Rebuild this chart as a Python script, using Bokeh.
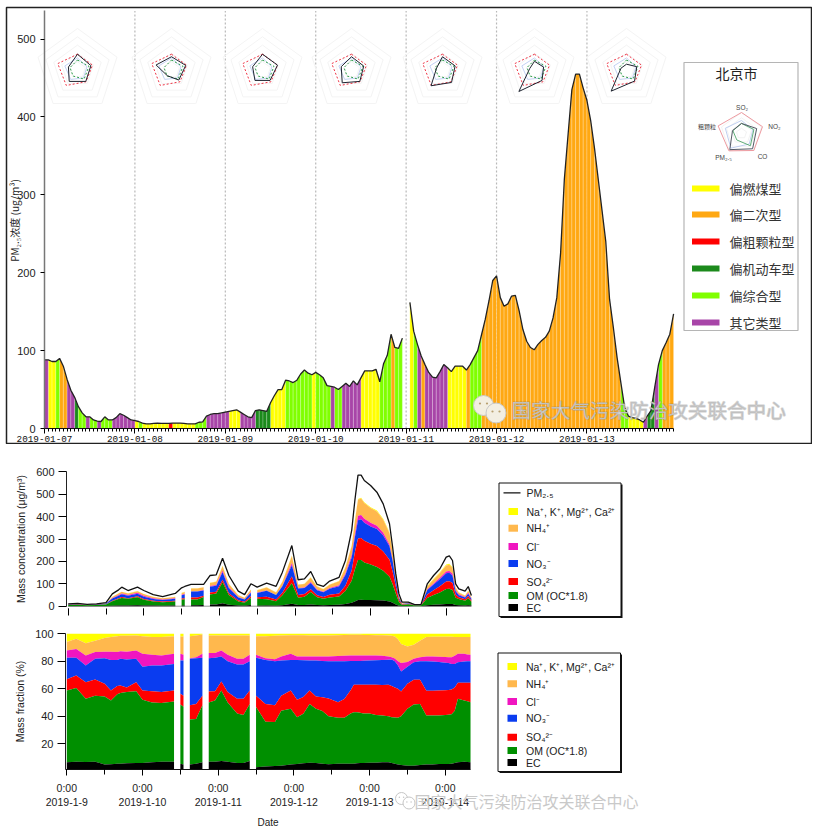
import math
import numpy as np
from bokeh.core.properties import value
from bokeh.embed import file_html
from bokeh.layouts import column
from bokeh.models import FixedTicker, LinearAxis, Range1d
from bokeh.plotting import figure
from bokeh.resources import INLINE

# ---------- top panel data ----------
nan = float("nan")
PM_HOURLY = [
    88, 88, 86, 86, 90, 80, 63, 49, 40, 28,
    20, 15, 15, 11, 9.5, 9, 15, 11, 11, 14,
    19, 17, 14, 11, 10, 9, 7, 6, 6, 6.5,
    7, 6.5, 6.5, 6.5, 7, 7, 7, 6.5, 6, 6,
    6, 8, 8.5, 16, 18, 19, 19, 20, 21, 22,
    23, 24, 21, 18, 15, 14, 23, 24, 23, 22,
    33, 42, 50, 50, 62, 61, 59, 62, 70, 75,
    71, 69, 72, 69, 65, 55, 54, 53, 50, 54,
    58, 54, 61, 56, 65, 74, 74, 74, 76, 60,
    83, 94, 121, 104, 103, 116, nan, 162, 125, 108,
    93, 82, 72, 66, 65, 73, 82, 78, 73, 80,
    80, 80, 75, 82, 91, 100, 120, 140, 164, 190,
    196, 168, 157, 160, 170, 171, 151, 127, 112, 104,
    101, 108, 113, 117, 125, 142, 168, 225, 320, 378,
    435, 455, 455, 437, 421, 395, 360, 320, 280, 240,
    166, 130, 91, 59, 27, 16, 14, 13, 11, 8,
    16, 23, 53, 82, 100, 110, 121, 147,
]
HOUR_TYPES = list(
    "PYYGOOPPDG" "GPGGPGGGPP" "PPPPYGYYYY" "YYYRYYYYYY" "GGGPPPPPPY"
    "YYPPPPDDDD" "YYYYGGGGGG" "GYGGGGPGGP" "PPPPYYYYYG" "GGOGGG-YGP"
    "OPPPPPPYYY" "YYOGGGOOOO" "OOOOOOOOOO" "OOOOOOOOOO" "OOOOOOOOOO"
    "OOOGGYYYYP" "DDPGOOOO"
)
TYPE_COLORS = {"Y": "#FFFF00", "O": "#FFA812", "R": "#FF0000",
               "D": "#1C8A1C", "G": "#80FF00", "P": "#A845A8"}
TYPE_NAMES = ["偏燃煤型", "偏二次型", "偏粗颗粒型", "偏机动车型", "偏综合型", "其它类型"]
TYPE_KEYS = ["Y", "O", "R", "D", "G", "P"]
DAY_LABELS = ["2019-01-07", "2019-01-08", "2019-01-09", "2019-01-10",
              "2019-01-11", "2019-01-12", "2019-01-13"]

RADAR_REF = [.38, .38, .35, .46, .50]
RADAR_GREEN = [.24, .29, .27, .18, .19]
RADAR_BLUE = [.29, .24, .24, .28, .32]
RADAR_DAILY = [
    [.38, .34, .34, .34, .23],
    [.32, .36, .30, .17, .39],
    [.38, .38, .31, .31, .25],
    [.32, .31, .34, .38, .26],
    [.32, .32, .37, .47, .15],
    [.21, .23, .31, .64, .12],
    [.14, .26, .33, .63, .14],
]
KEY_REF = [1.0, 1.05, 1.0, 1.02, 1.17]
KEY_BLACK = [.48, .76, .90, .95, .45]
KEY_GREEN = [.48, .62, .72, .38, .43]
KEY_BLUE = [.62, .57, .62, .86, .81]

# ---------- lower panels data ----------
HOURS = [0, 3, 6, 9, 12, 14, 16, 17, 19, 22, 24, 27, 30, 34, 36, 37, 39, 41, 43,
         45, 47, 49, 51, 54, 56, 58, 60, 63, 66, 68, 71, 73, 75, 77, 79, 81, 83,
         86, 88, 90, 91, 92, 93, 94, 96, 98, 100, 102, 103, 104, 105, 106, 108,
         110, 112, 114, 116, 118, 120, 121, 122, 123, 124, 126, 127, 128]
SEGMENT_ENDS = [34, 37, 43, 58, 128]
PM25 = [10, 13, 8, 10, 16, 55, 73, 85, 70, 85, 70, 52, 43, 57, 82, 88, 97, 97, 97,
        137, 140, 214, 137, 67, 52, 100, 85, 103, 89, 152, 271, 118, 122, 155, 97, 88, 112,
        129, 204, 338, 472, 585, 585, 561, 539, 509, 457, 368, 263, 144, 55, 18, 18,
        7, 7, 100, 137, 167, 219, 225, 204, 100, 77, 67, 88, 48]
SPECIES_TOTAL = [10, 11, 8, 10, 14, 42, 58, 65, 58, 68, 55, 42, 36, 42, 60, 65, 80, 80, 85,
                 105, 110, 181, 100, 50, 38, 75, 72, 85, 62, 110, 226, 97, 100, 129, 89, 77, 97,
                 112, 174, 271, 382, 479, 484, 464, 442, 427, 390, 330, 248, 144, 48, 13, 18,
                 7, 7, 90, 122, 152, 186, 189, 174, 85, 62, 48, 70, 40]
TOP_EC = [6.5, 7, 6.8, 7, 5, 5.2, 5.5, 5.5, 5.8, 6, 6, 6.5, 7, 7, 5.5, 5, 5, 5.5, 6.5,
          7, 7, 7.5, 7, 6, 6, 7.5, 3, 3.5, 3.8, 4, 5, 5.3, 5.8, 6.2, 6, 5.5, 5.2,
          5.5, 5.5, 5.5, 5.5, 5.8, 6, 6, 6.2, 6.3, 6.5, 6.5, 6, 5.5, 5, 4.5, 4,
          4, 4.5, 5, 5, 5.3, 5.3, 5.3, 5.5, 6, 6.5, 7, 6.8, 6.5]
TOP_OM = [58.8, 60.5, 52.7, 55, 54.4, 51.5, 56, 57, 57.6, 58.3, 52, 50, 49.6, 50.8, 48.6, 47, 37.7, 38, 48,
          50, 51.5, 58.8, 50, 42, 41, 49, 46.7, 36, 35.8, 44, 45.5, 39.4, 41.8, 49, 45.5, 43.8, 40,
          39, 39, 42, 43, 43, 42.5, 42, 42, 41, 40.5, 40, 39.4, 39.2, 39, 40, 45.5,
          48.5, 49, 40.6, 40.6, 40.6, 41, 41.2, 41.5, 44, 52.7, 51.5, 51, 50.3]
TOP_SO4 = [67, 69.7, 64.8, 66.8, 63.6, 58.8, 62, 62.4, 61, 64.8, 58.8, 58.3, 57.6, 58.8, 56.4, 55, 48, 49, 55,
           58, 58.3, 65.3, 57.6, 52.7, 52.7, 58.8, 55, 49, 48, 55, 58.8, 52, 54, 58.8, 54.4, 53.8, 53,
           50.3, 52.5, 59, 63, 63, 63, 63, 63, 63, 62.7, 63, 62, 61, 60, 58, 63.6,
           66.5, 66.5, 58.5, 58.5, 58.8, 59, 59.2, 59.5, 61, 64.4, 64.4, 64.4, 64.4]
TOP_NO3 = [82.5, 82.5, 77, 81.8, 82.3, 81, 81, 81.8, 81.3, 81.8, 76, 77, 77, 78, 80.6, 80.6, 81.8, 82.3, 82.5,
           82.3, 82.5, 83.5, 80, 77.7, 77.7, 80, 82.5, 81, 80, 80.5, 81, 81, 80.8, 80.6, 80.5, 80.2, 80,
           80, 80, 80.2, 80.2, 80.2, 80.3, 80.4, 80.5, 80.8, 81, 81.2, 81.4, 80, 77, 72.5, 76,
           79.4, 80, 80, 79.8, 79.5, 79, 78.8, 78, 78, 79.4, 79.8, 80, 80]
TOP_CL = [87.9, 89, 84.2, 86.7, 87, 87, 86.7, 87.4, 87, 87.9, 85.5, 84.7, 84.2, 85.5, 85.5, 84.7, 82.3, 83, 85.5,
          86, 86, 87.9, 84.7, 81.8, 81.8, 84.7, 84.7, 82.3, 81.5, 83.5, 85.5, 83.5, 83.5, 83.5, 83.5, 83.5, 83.5,
          83.8, 84, 84.2, 84.2, 84.2, 84.2, 84.2, 84.2, 84.2, 84, 83.5, 83, 82, 80, 78.7, 79.5,
          81.8, 83, 83.5, 83.5, 83.3, 83.2, 83, 83, 84, 85.5, 85.5, 85, 84.7]
TOP_NH4 = [94, 96.4, 93.2, 95, 97, 97.6, 98.3, 98.5, 98.6, 98.8, 98.3, 97.6, 97.6, 98.3, 98, 98, 98.3, 98.8, 99.5,
           98.8, 98.8, 98.8, 98.8, 98.8, 98.8, 98.8, 98.3, 98.3, 98.5, 98.8, 99, 99, 99, 98.8, 98.8, 98.8, 98.8,
           99, 99.2, 99.3, 99.3, 99.3, 99.3, 99.2, 99.2, 99, 99, 98.8, 98.5, 98, 96, 92.5, 90.8,
           92, 95, 97.6, 97.8, 97.8, 97.8, 97.8, 97.8, 97.6, 97.6, 97.6, 97.6, 97.6]
TOP_ALL = [100] * len(HOURS)
SPECIES_NAMES = ["Na⁺, K⁺, Mg²⁺, Ca²⁺", "NH₄⁺", "Cl⁻", "NO₃⁻", "SO₄²⁻", "OM (OC*1.8)", "EC"]
SPECIES_COLORS = ["#FFFF00", "#FFB84D", "#F015C0", "#0A3CF0", "#FF0000", "#008F00", "#000000"]
DATE_LABELS = ["2019-1-9", "2019-1-10", "2019-1-11", "2019-1-12", "2019-1-13", "2019-1-14"]

CN = "Noto Sans CJK SC"
AR = "Liberation Sans"


def txt(p, x, y, s, size, color="#222222", align="left", base="middle", font=AR, **kw):
    return p.text(x=[x], y=[y], text=[s], text_font=value(font), text_font_size=f"{size}px",
                  text_color=color, text_align=align, text_baseline=base,
                  x_range_name="px", y_range_name="px", **kw)


def radar(cx, cy, r, vals):
    xs, ys = [], []
    for k, v in enumerate(list(vals) + [vals[0]]):
        a = math.radians(90 - 72 * k)
        xs.append(cx + r * v * math.cos(a))
        ys.append(cy - r * v * math.sin(a))
    return xs, ys


def pxline(p, xs, ys, **kw):
    return p.line(xs, ys, x_range_name="px", y_range_name="px", **kw)


def base_fig(w, h, xr, yr, px_x, px_y, left=0, top=0):
    p = figure(width=w, height=h, x_range=Range1d(*xr), y_range=Range1d(*yr),
               x_axis_type=None, y_axis_type=None, toolbar_location=None,
               output_backend="svg", min_border=0, min_border_left=left, min_border_right=0,
               min_border_top=top, min_border_bottom=0, background_fill_color="white")
    p.extra_x_ranges = {"px": Range1d(*px_x)}
    p.extra_y_ranges = {"px": Range1d(*px_y)}
    p.grid.visible = False
    return p


def wechat(p, x, y, r, fill, edge, eye):
    p.scatter([x, x + r * 1.25], [y, y + r * .75], size=2 * r, fill_color=fill,
              line_color=edge, line_width=1, x_range_name="px", y_range_name="px", level="annotation")
    p.scatter([x - r * .35, x + r * .35, x + r * .9, x + r * 1.6],
              [y - r * .2, y - r * .2, y + r * .6, y + r * .6],
              size=max(1.5, r * .22), fill_color=eye, line_color=None,
              x_range_name="px", y_range_name="px", level="annotation")


# ---------- panel 1 ----------
X0, PXH = 44.0, 3.767
Y0, PXV = 428.0, 0.779
p1 = base_fig(812, 444, ((6 - X0) / PXH, (812 - X0) / PXH), ((Y0 - 444) / PXV, (Y0 - 7) / PXV),
              (6, 812), (444, 7), left=6, top=7)
p1.outline_line_color = "#222222"
p1.outline_line_width = 1.5

for day in range(1, 7):
    p1.line([24 * day, 24 * day], [0, 536], line_color="#b8b8b8", line_width=1.2, line_dash=[2, 2])

for key in TYPE_KEYS:
    xs, ys = [], []
    for h in range(len(PM_HOURLY) - 1):
        a, b = PM_HOURLY[h], PM_HOURLY[h + 1]
        if HOUR_TYPES[h] == key and a == a and b == b:
            xs.append([h, h, h + 1, h + 1])
            ys.append([0, a, b, 0])
    if xs:
        p1.patches(xs, ys, fill_color=TYPE_COLORS[key], line_color="#ffffff", line_alpha=.32, line_width=.7)
p1.line(list(range(len(PM_HOURLY))), PM_HOURLY, line_color="#222222", line_width=1.3)

xa = LinearAxis(fixed_location=0, bounds=(0, 167))
xa.ticker = FixedTicker(ticks=[24 * i for i in range(7)], minor_ticks=list(range(168)))
xa.major_label_overrides = {24 * i: s for i, s in enumerate(DAY_LABELS)}
xa.major_label_text_font = "Liberation Mono"
xa.major_label_text_font_size = "9.3px"
xa.major_label_text_color = "#111111"
xa.major_label_standoff = 2
xa.major_tick_in = 0
xa.major_tick_out = 5
xa.minor_tick_in = 0
xa.minor_tick_out = 3
xa.axis_line_color = "#111111"
p1.add_layout(xa, "below")

ya = LinearAxis(fixed_location=0, bounds=(0, 536))
ya.ticker = FixedTicker(ticks=[0, 100, 200, 300, 400, 500])
ya.major_label_text_font = AR
ya.major_label_text_font_size = "11px"
ya.major_label_text_color = "#222222"
ya.major_label_standoff = 5
ya.major_tick_in = 0
ya.major_tick_out = 4
ya.minor_tick_line_color = None
ya.axis_line_color = "#777777"
ya.axis_line_width = 1.5
p1.add_layout(ya, "left")
txt(p1, 14, 220, "PM₂.₅浓度 (ug/m³)", 10, align="center", font=CN, angle=math.pi / 2)

RADAR_CX = [77, 171, 262, 351, 442, 534, 626]
RADAR_CY = 69.5
for cx, daily in zip(RADAR_CX, RADAR_DAILY):
    for lv in (1, .8, .6, .4, .2):
        xs, ys = radar(cx, RADAR_CY, 41.5, [lv] * 5)
        pxline(p1, xs, ys, line_color="#f4f4f4", line_width=1)
    xs, ys = radar(cx, RADAR_CY, 41.5, RADAR_BLUE)
    pxline(p1, xs, ys, line_color="#c4d2f4", line_width=1)
    xs, ys = radar(cx, RADAR_CY, 41.5, RADAR_REF)
    pxline(p1, xs, ys, line_color="#ee3344", line_width=1, line_dash=[2, 2])
    xs, ys = radar(cx, RADAR_CY, 41.5, RADAR_GREEN)
    pxline(p1, xs, ys, line_color="#2e9e4a", line_width=1, line_dash=[2, 2])
    xs, ys = radar(cx, RADAR_CY, 41.5, daily)
    pxline(p1, xs, ys, line_color="#1f2430", line_width=1)

# key box
p1.quad(left=[683.5], right=[797.5], top=[62], bottom=[330], fill_color="white", line_color="#b5b5b5",
        line_width=1.2, x_range_name="px", y_range_name="px")
txt(p1, 736, 72, "北京市", 14, align="center", font=CN)
KCX, KCY, KR = 741, 133, 21
for lv in (1, .75, .5, .25):
    xs, ys = radar(KCX, KCY, KR, [lv] * 5)
    pxline(p1, xs, ys, line_color="#efefef", line_width=.8)
for vals, col, lw in ((KEY_BLUE, "#b9c9ee", .9), (KEY_REF, "#ee9aa0", 1), (KEY_GREEN, "#4fa56a", .9), (KEY_BLACK, "#555a66", 1)):
    xs, ys = radar(KCX, KCY, KR, vals)
    pxline(p1, xs, ys, line_color=col, line_width=lw)
txt(p1, 741.5, 107, "SO₂", 6.5, align="center", color="#444444")
txt(p1, 774, 126, "NO₂", 6.5, align="center", color="#444444")
txt(p1, 762, 156, "CO", 6.5, align="center", color="#444444")
txt(p1, 723, 157, "PM₂.₅", 6.5, align="center", color="#444444")
txt(p1, 706.5, 126, "粗颗粒", 6, align="center", color="#444444", font=CN)
for i, (key, name) in enumerate(zip(TYPE_KEYS, TYPE_NAMES)):
    yy = [188, 214, 241, 268, 295, 322][i]
    p1.quad(left=[691.5], right=[719], top=[yy - 3], bottom=[yy + 3], fill_color=TYPE_COLORS[key],
            line_color=None, x_range_name="px", y_range_name="px")
    txt(p1, 729, yy, name, 13, font=CN, color="#333333")

wechat(p1, 483, 405, 10, "#f3efe2", "#c8c8c8", "#b8a070")
txt(p1, 511, 409, "国家大气污染防治攻关联合中心", 19.6, font=CN, color="#dcdcdc",
    text_outline_color="rgba(110,110,110,0.25)", level="annotation")


# ---------- lower panel helpers ----------
def segments():
    start = 0
    for end_h in SEGMENT_ENDS:
        end = HOURS.index(end_h)
        yield start, end + 1
        start = end + 1


BOUNDS = [TOP_ALL, TOP_NH4, TOP_CL, TOP_NO3, TOP_SO4, TOP_OM, TOP_EC]


def lower_axes(p, xfix, yfix, yticks, ybounds, ylabel, xbounds, xlabels, xline, tick_out):
    xa = LinearAxis(fixed_location=xfix, bounds=xbounds)
    xa.ticker = FixedTicker(ticks=[24 * i for i in range(6)], minor_ticks=[12 * i for i in range(11)])
    xa.major_tick_in = 0
    xa.major_tick_out = tick_out
    xa.minor_tick_in = 0
    xa.minor_tick_out = tick_out - 1
    xa.axis_line_color = xline
    if xlabels:
        xa.major_label_overrides = {24 * i: f"0:00\n{s}" for i, s in enumerate(DATE_LABELS)}
        xa.major_label_text_font = AR
        xa.major_label_text_font_size = "10.5px"
        xa.major_label_text_color = "#222222"
        xa.major_label_standoff = 6
        xa.axis_label = "Date"
        xa.axis_label_text_font = AR
        xa.axis_label_text_font_style = "normal"
        xa.axis_label_text_font_size = "10px"
        xa.axis_label_text_color = "#222222"
        xa.axis_label_standoff = 6
    else:
        xa.major_label_text_font_size = "0px"
        xa.major_label_text_color = None
    p.add_layout(xa, "below")
    ya = LinearAxis(fixed_location=yfix, bounds=ybounds, axis_label=ylabel)
    ya.ticker = FixedTicker(ticks=yticks)
    ya.major_label_text_font = AR
    ya.major_label_text_font_size = "11px"
    ya.major_label_text_color = "#222222"
    ya.major_label_standoff = 4
    ya.major_tick_in = 0
    ya.major_tick_out = 8
    ya.minor_tick_line_color = None
    ya.axis_line_color = "#222222"
    ya.axis_label_text_font = AR
    ya.axis_label_text_font_style = "normal"
    ya.axis_label_text_font_size = "10.5px"
    ya.axis_label_text_color = "#222222"
    ya.axis_label_standoff = 6
    p.add_layout(ya, "left")


def species_box(p, l, r, t, b, ys, tx):
    p.quad(left=[l + 1.5], right=[r + 1.5], top=[t + 1.5], bottom=[b + 1.5], fill_color="#111111", line_color=None,
           x_range_name="px", y_range_name="px")
    p.quad(left=[l], right=[r], top=[t], bottom=[b], fill_color="white", line_color="#111111", line_width=1,
           x_range_name="px", y_range_name="px")
    for name, col, yy in zip(SPECIES_NAMES, SPECIES_COLORS, ys):
        p.quad(left=[l + 9.5], right=[l + 19], top=[yy - 3.5], bottom=[yy + 3.5], fill_color=col, line_color=None,
               x_range_name="px", y_range_name="px")
        txt(p, tx, yy, name, 10.5)


# ---------- panel 2 ----------
X2, PH2 = 67.7, 3.15
Y2, PV2 = 605.7, 0.224
p2 = base_fig(826, 178, ((6 - X2) / PH2, (826 - X2) / PH2), ((Y2 - 622) / PV2, (Y2 - 444) / PV2),
              (6, 826), (622, 444), left=6)
p2.outline_line_color = None
total = np.array(SPECIES_TOTAL, dtype=float)
hrs = np.array(HOURS, dtype=float)
p2.line([0, 128], [0, 0], line_color="#999999", line_width=1)
for s, e in segments():
    for i in range(len(BOUNDS) - 1):
        p2.varea(hrs[s:e], total[s:e] * np.array(BOUNDS[i + 1][s:e]) / 100, total[s:e] * np.array(BOUNDS[i][s:e]) / 100,
                 fill_color=SPECIES_COLORS[i])
    p2.varea(hrs[s:e], 0, total[s:e] * np.array(TOP_EC[s:e]) / 100, fill_color="#000000")
p2.line(HOURS, PM25, line_color="#111111", line_width=1.3)
lower_axes(p2, (Y2 - 608) / PV2, (66 - X2) / PH2, [0, 100, 200, 300, 400, 500, 600], (-2, 600),
           "Mass concentration (μg/m³)", (0, 120), False, None, 7)
species_box(p2, 498.5, 620.5, 482.5, 616, [511, 527.7, 546, 563, 581, 595, 607], 526)
pxline(p2, [503, 520], [492.3, 492.3], line_color="#111111", line_width=1.3)
txt(p2, 526, 492.3, "PM₂.₅", 10.5)

# ---------- panel 3 ----------
X3, PH3 = 66.3, 3.154
Y3, PV3 = 633.3, 1.375
FLOOR = 1.3
p3 = base_fig(826, 205, ((6 - X3) / PH3, (826 - X3) / PH3), (100 - (827 - Y3) / PV3, 100 + (Y3 - 622) / PV3),
              (6, 826), (827, 622), left=6)
p3.outline_line_color = None
for s, e in segments():
    for i in range(len(BOUNDS) - 1):
        p3.varea(hrs[s:e], BOUNDS[i + 1][s:e], BOUNDS[i][s:e], fill_color=SPECIES_COLORS[i])
    p3.varea(hrs[s:e], FLOOR, TOP_EC[s:e], fill_color="#000000")
lower_axes(p3, FLOOR, (65 - X3) / PH3, [20, 40, 60, 80, 100], (FLOOR, 100),
           "Mass fraction (%)", (-0.4, 128), True, "#111111", 6)
species_box(p3, 497.5, 620, 652.5, 771, [666, 683.3, 701, 717.7, 736.7, 750, 762], 525.5)
wechat(p3, 401, 798, 6, "#ffffff", "#c6c6c6", "#c6c6c6")
txt(p3, 414, 800, "国家大气污染防治攻关联合中心", 16, font=CN, color="#c9c9c9", level="annotation")

page = column(p1, p2, p3, spacing=0)
open("out.html", "w").write(file_html(page, INLINE))
